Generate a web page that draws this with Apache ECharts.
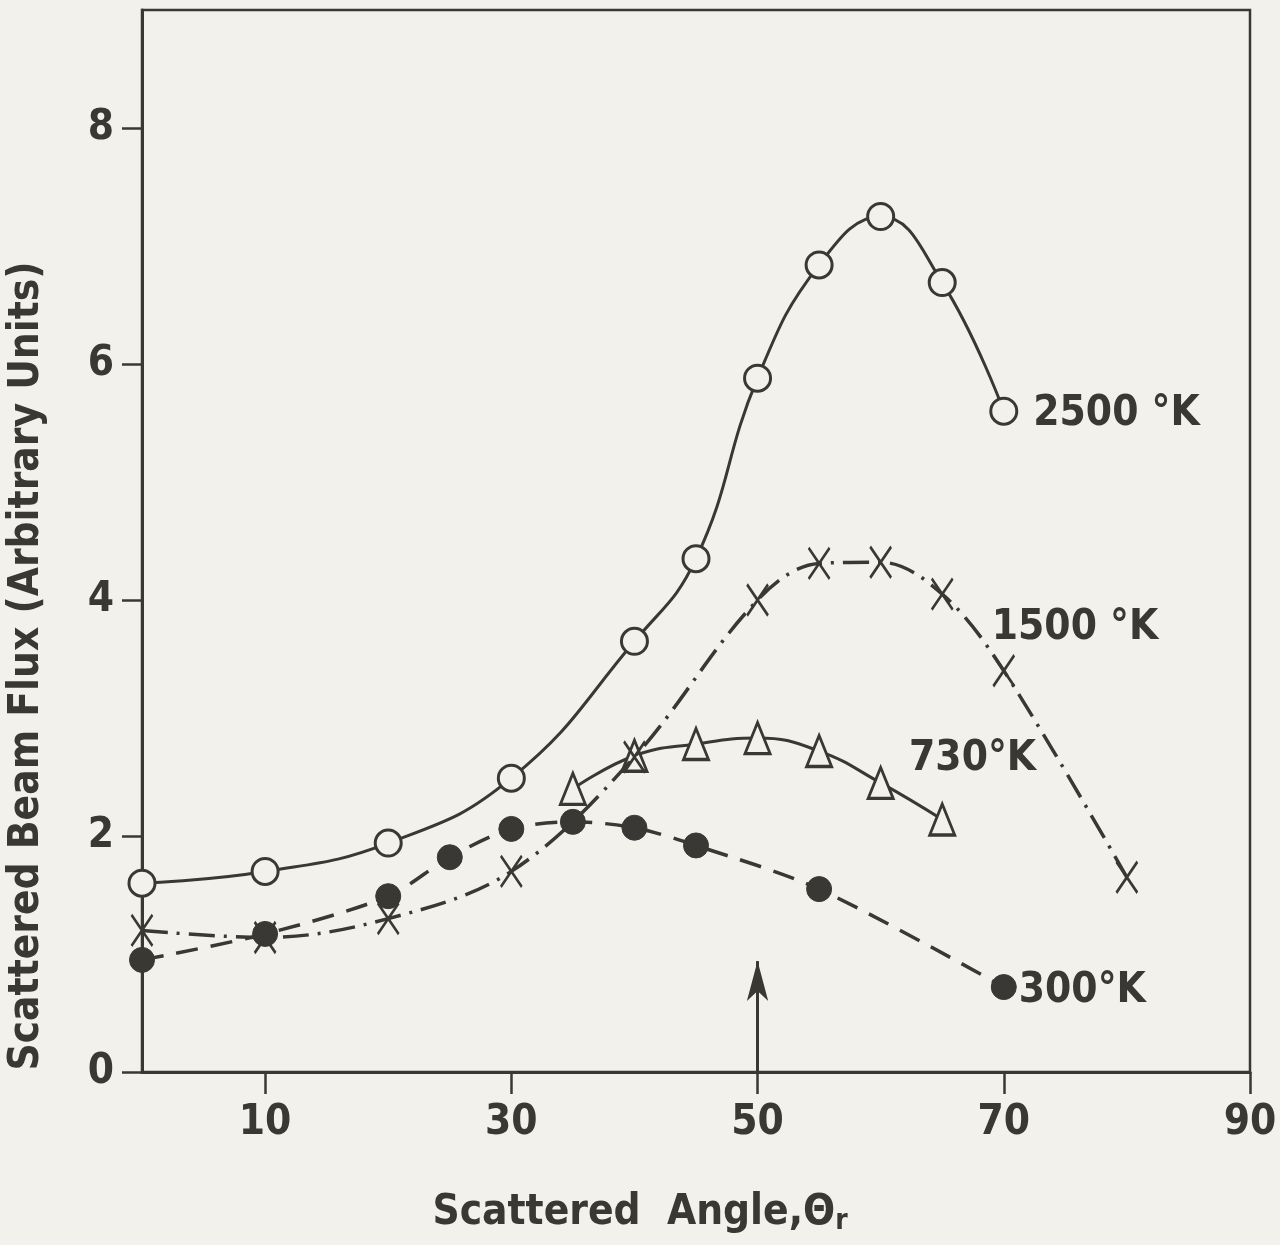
<!DOCTYPE html>
<html>
<head>
<meta charset="utf-8">
<title>Scattered Beam Flux vs Scattered Angle</title>
<script src="https://cdn.jsdelivr.net/npm/echarts@6/dist/echarts.min.js"></script>
<style>
  html, body { margin: 0; padding: 0; background: #f3f1ec; }
  #chart { width: 1280px; height: 1245px; }
</style>
</head>
<body>
<div id="chart"></div>
<script>
// Scattered angle (degrees) and beam flux (arbitrary units) per surface temperature
const angle2500 = [0, 10, 20, 30, 40, 45, 50, 55, 60, 65, 70];
const flux2500  = [1.6, 1.7, 1.94, 2.49, 3.65, 4.35, 5.88, 6.84, 7.25, 6.69, 5.6];

const angle1500 = [0, 10, 20, 30, 40, 50, 55, 60, 65, 70, 80];
const flux1500  = [1.2, 1.14, 1.30, 1.70, 2.67, 4.0, 4.31, 4.32, 4.05, 3.4, 1.65];

const angle730 = [35, 40, 45, 50, 55, 60, 65];
const flux730  = [2.4, 2.68, 2.78, 2.83, 2.72, 2.45, 2.14];

const angle300 = [0, 10, 20, 25, 30, 35, 40, 45, 55, 70];
const flux300  = [0.95, 1.17, 1.49, 1.82, 2.06, 2.12, 2.07, 1.92, 1.55, 0.72];

const seriesNames = ['2500 °K', '1500 °K', '730°K', '300°K'];

// Axis ticks
const xTicks = [10, 30, 50, 70, 90];
const yTicks = [0, 2, 4, 6, 8];

// Specular-angle arrow
const specularAngle = 50;
const arrowFrom = 0;
const arrowTo = 0.94;

const INK = '#3a3834';
const PAPER = '#f3f1ec';
const FONT = "'DejaVu Sans Condensed', 'Liberation Sans Narrow', 'DejaVu Sans', sans-serif";

function zip(xs, ys) { return xs.map((x, i) => [x, ys[i]]); }

// attach the temperature tag to one point of a curve
function tagged(points, index, name, offset) {
  return points.map((p, i) => i !== index ? p : {
    value: p,
    label: {
      show: true,
      position: 'right',
      distance: 5,
      offset: offset,
      formatter: name,
      color: INK,
      fontFamily: FONT,
      fontSize: 42,
      fontWeight: 'bold'
    }
  });
}

const crossPath = 'path://M0,0L20,30M20,0L0,30';

const chart = echarts.init(document.getElementById('chart'), null, { renderer: 'canvas' });

chart.setOption({
  backgroundColor: PAPER,
  animation: false,
  grid: {
    left: 142, right: 30, top: 10, bottom: 173,
    show: true, borderColor: INK, borderWidth: 2.5,
    backgroundColor: 'transparent',
    outerBoundsMode: 'none'
  },
  xAxis: {
    type: 'value', min: 0, max: 90,
    name: 'Scattered  Angle,Θ{sub|r}',
    nameLocation: 'middle', nameGap: 118,
    nameTextStyle: {
      color: INK, fontFamily: FONT, fontSize: 42, fontWeight: 'bold',
      padding: [0, 112, 0, 0],
      rich: { sub: { fontFamily: FONT, fontSize: 28, fontWeight: 'bold', color: INK, verticalAlign: 'bottom', padding: [18, 0, 0, 0] } }
    },
    axisLine: { show: true, onZero: false, lineStyle: { color: INK, width: 3 } },
    axisTick: { show: true, length: 22, customValues: xTicks, lineStyle: { color: INK, width: 2.5 } },
    axisLabel: { customValues: xTicks, margin: 30, color: INK, fontFamily: FONT, fontSize: 42, fontWeight: 'bold' },
    splitLine: { show: false }
  },
  yAxis: {
    type: 'value', min: 0, max: 9,
    name: 'Scattered Beam Flux (Arbitrary Units)',
    nameLocation: 'middle', nameGap: 94, nameRotate: 90,
    nameTextStyle: {
      color: INK, fontFamily: FONT, fontSize: 42, fontWeight: 'bold',
      padding: [0, 250, 0, 0]
    },
    axisLine: { show: true, onZero: false, lineStyle: { color: INK, width: 3 } },
    axisTick: { show: true, length: 20, customValues: yTicks, lineStyle: { color: INK, width: 2.5 } },
    axisLabel: { customValues: yTicks, margin: 28, color: INK, fontFamily: FONT, fontSize: 42, fontWeight: 'bold' },
    splitLine: { show: false }
  },
  series: [
    {
      name: seriesNames[0], type: 'line', smooth: 0.45, z: 4,
      data: tagged(zip(angle2500, flux2500), angle2500.length - 1, seriesNames[0], [10, 3]),
      lineStyle: { color: INK, width: 3, type: 'solid' },
      symbol: 'circle', symbolSize: 26, showAllSymbol: true,
      itemStyle: { color: PAPER, borderColor: INK, borderWidth: 3 }
    },
    {
      name: seriesNames[3], type: 'line', smooth: 0.3, z: 3,
      data: tagged(zip(angle300, flux300), angle300.length - 1, seriesNames[3], [-3, 4]),
      lineStyle: { color: INK, width: 3.5, type: [22, 13] },
      symbol: 'circle', symbolSize: 25, showAllSymbol: true,
      itemStyle: { color: INK, borderColor: INK, borderWidth: 1 }
    },
    {
      name: seriesNames[2], type: 'line', smooth: 0.45, z: 5,
      data: tagged(zip(angle730, flux730), angle730.length - 1, seriesNames[2], [-52, -60]),
      lineStyle: { color: INK, width: 3, type: 'solid' },
      symbol: 'triangle', symbolSize: [25, 31], showAllSymbol: true,
      itemStyle: { color: PAPER, borderColor: INK, borderWidth: 3 }
    },
    {
      name: seriesNames[1], type: 'line', smooth: 0.35, z: 6,
      data: tagged(zip(angle1500, flux1500), 8, seriesNames[1], [32, 34]),
      lineStyle: { color: INK, width: 3.5, type: [26, 9, 3, 9] },
      symbol: crossPath, symbolSize: [21, 31], showAllSymbol: true,
      itemStyle: { color: 'none', borderColor: INK, borderWidth: 2.8 }
    },
    {
      name: 'specular', type: 'line', data: [], silent: true,
      markLine: {
        silent: true,
        symbol: ['none', 'arrow'],
        symbolSize: [16, 40],
        label: { show: false },
        lineStyle: { color: INK, width: 3, type: 'solid' },
        itemStyle: { color: INK },
        data: [[{ coord: [specularAngle, arrowFrom] }, { coord: [specularAngle, arrowTo] }]]
      }
    }
  ]
});
</script>
</body>
</html>
